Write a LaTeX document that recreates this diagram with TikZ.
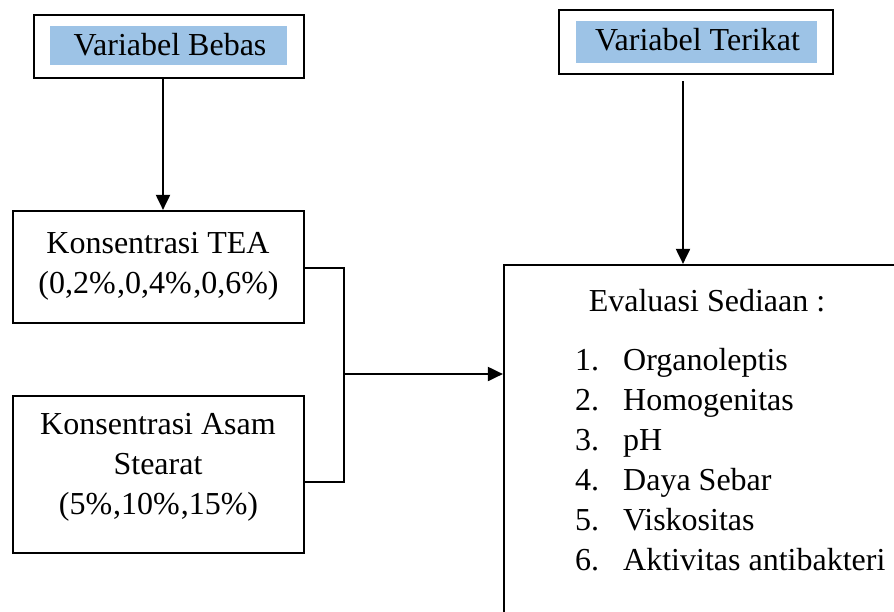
\documentclass[tikz,border=0pt]{standalone}
\usepackage{fontspec}
\setmainfont{Liberation Serif}
\usetikzlibrary{arrows.meta,calc}
\definecolor{lblue}{RGB}{157,195,230}
\begin{document}
\begin{tikzpicture}[x=1pt,y=-1pt,
  box/.style={draw,line width=2.2pt,inner sep=0pt},
  fillbox/.style={fill=lblue,inner sep=0pt},
  txt/.style={inner sep=0pt,anchor=base,font=\fontsize{32}{40}\selectfont},
  ltxt/.style={inner sep=0pt,anchor=base west,font=\fontsize{32}{40}\selectfont},
  arr/.style={line width=2pt,-{Triangle[length=15pt,width=14pt]}},
  thinline/.style={line width=1.2pt}]
\useasboundingbox (0,0) rectangle (894,611);
\clip (0,0) rectangle (894,611);
% Variabel Bebas
\node[box,minimum width=270pt,minimum height=63pt] (vbOuter) at (169,46.5) {};
\node[fillbox,minimum width=237pt,minimum height=39pt] (vbInner) at (168.5,45.5) {};
\node[txt] (vbText) at (170,55) {Variabel Bebas};
% Variabel Terikat
\node[box,minimum width=274pt,minimum height=64pt] (vtOuter) at (696,42) {};
\node[fillbox,minimum width=241pt,minimum height=42pt] (vtInner) at (696.5,42) {};
\node[txt] (vtText) at (697.5,50) {Variabel Terikat};
% TEA
\node[box,minimum width=291pt,minimum height=112pt] (tea) at (158.5,267) {};
\node[txt] (teaA) at (158,253) {Konsentrasi TEA};
\node[txt] (teaB) at (158.5,293) {(0,2\%\kern1.5pt,0,4\%\kern1.5pt,0,6\%)};
% Asam Stearat
\node[box,minimum width=291pt,minimum height=157pt] (ste) at (158.5,474.5) {};
\node[txt] (steA) at (158,434) {Konsentrasi Asam};
\node[txt] (steB) at (158,474) {Stearat};
\node[txt] (steC) at (158.5,514) {(5\%\kern1pt,10\%\kern1pt,15\%)};
% Evaluasi
\node[box,minimum width=400pt,minimum height=400pt] (eval) at (704,465) {};
\node[txt] (evTitle) at (707,311) {Evaluasi Sediaan :};
\foreach \n/\t [count=\i] in {1/Organoleptis,2/Homogenitas,3/pH,4/Daya Sebar,5/Viskositas,6/Aktivitas antibakteri}{
  \node[ltxt] (num\i) at (575,{330+40*\i}) {\n.};
  \node[ltxt] (item\i) at (623,{330+40*\i}) {\t};
}
% connectors
\draw[arr] ([xshift=-6pt]vbOuter.south) -- ([xshift=-6pt]vbOuter.south |- tea.north);
\draw[arr] ([xshift=-13pt,yshift=-6pt]vtOuter.south) -- ([xshift=-13pt]vtOuter.south |- eval.north);
\coordinate (junc) at (344,374);
\draw[thinline] ([yshift=-1pt]tea.east) -| (junc) |- ([yshift=-7.5pt]ste.east);
\draw[arr] (junc) -- (junc -| eval.west);
\end{tikzpicture}
\end{document}
